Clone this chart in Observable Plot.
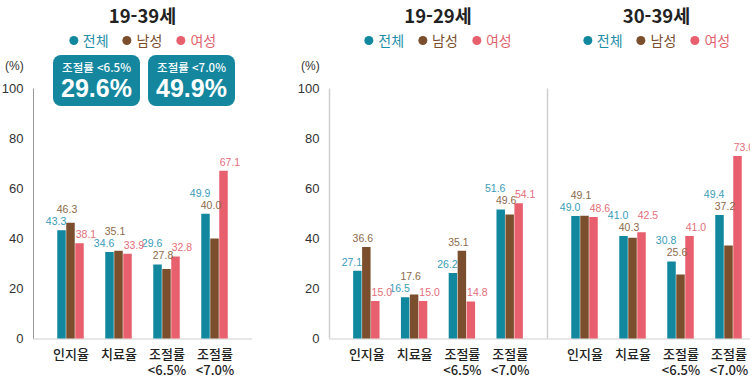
<!DOCTYPE html>
<html lang="ko">
<head>
<meta charset="utf-8">
<script src="https://cdn.jsdelivr.net/npm/d3@7"></script>
<script src="https://cdn.jsdelivr.net/npm/@observablehq/plot@0.6"></script>
<style>
  html, body { margin: 0; padding: 0; background: #fff; }
  body { width: 750px; height: 379px; overflow: hidden; position: relative;
         font-family: "Liberation Sans", "Noto Sans CJK KR", sans-serif; }
  .title { position: absolute; top: 2px; font: 700 18.5px "Noto Sans CJK KR", sans-serif;
           color: #222; transform: translateX(-50%); white-space: nowrap; }
  .legend { position: absolute; top: 30px; transform: translateX(-50%); display: flex; gap: 14px;
            font: 400 14px "Noto Sans CJK KR", sans-serif; white-space: nowrap; align-items: center; }
  .legend span { display: flex; align-items: center; gap: 5px; }
  .legend i { display: inline-block; width: 9px; height: 9px; border-radius: 50%; }
  .unit { position: absolute; top: 59px; font: 12px "Liberation Sans", sans-serif; color: #333; }
  .box { position: absolute; top: 55px; width: 87px; height: 51px; border-radius: 8px;
         background: #14879f; color: #fff; text-align: center; }
  .box .small { font: 500 11.5px "Noto Sans CJK KR", sans-serif; margin-top: 5px; line-height: 14px; }
  .box .big { font: 700 25px "Liberation Sans", sans-serif; line-height: 28px; }
  .panel { position: absolute; top: 60px; height: 319px; }
  .panel svg { max-width: none !important; }
</style>
</head>
<body>
<script>
// ---- data ----
const categories = ["인지율", "치료율", "조절률\n<6.5%", "조절률\n<7.0%"];
const seriesNames = ["전체", "남성", "여성"];
const yTicks = [0, 20, 40, 60, 80, 100];
const panelTitles = ["19-39세", "19-29세", "30-39세"];

const total1939  = [43.3, 34.6, 29.6, 49.9];
const male1939   = [46.3, 35.1, 27.8, 40.0];
const female1939 = [38.1, 33.9, 32.8, 67.1];

const total1929  = [27.1, 16.5, 26.2, 51.6];
const male1929   = [36.6, 17.6, 35.1, 49.6];
const female1929 = [15.0, 15.0, 14.8, 54.1];

const total3039  = [49.0, 41.0, 30.8, 49.4];
const male3039   = [49.1, 40.3, 25.6, 37.2];
const female3039 = [48.6, 42.5, 41.0, 73.0];

const highlightNames = ["조절률 <6.5%", "조절률 <7.0%"];
const highlightIndex = [2, 3];

// ---- styles ----
const barColors = ["#12889f", "#7b4f2e", "#e85f6e"];
const labelColors = ["#3a9cb6", "#8c6a4b", "#e36e7b"];
const legendColors = ["#1f8ea8", "#7b4f2e", "#e2636f"];

const xDomain = [-0.78125, 3.78125];
const SLOT = 0.1875, HALF = 0.0885;
const OFF = 3.6, LIFT = 4.8;

const panels = [
  {values: [total1939, male1939, female1939], left: 0, width: 260, mL: 33, mR: 8, showY: true, axisColor: "#9a9a9a", axisW: 1},
  {values: [total1929, male1929, female1929], left: 280, width: 275, mL: 49, mR: 8, showY: true, axisColor: "#cfcfcf", axisW: 1.5},
  {values: [total3039, male3039, female3039], left: 540, width: 240, mL: 7, mR: 14, showY: false, axisColor: "#cfcfcf", axisW: 1.5}
];

function buildPanel(p, k) {
  const rows = [];
  const labels = [];
  categories.forEach((c, i) => {
    seriesNames.forEach((s, j) => rows.push({i, j, s, v: p.values[j][i]}));
    const [b, m, f] = p.values.map(a => a[i]);
    let yb = b + OFF, ym = Math.max(b, m) + OFF, yf = f + OFF;
    if (Math.abs(yb - ym) < LIFT) { if (ym > yb) ym = yb + LIFT; else yb = ym + LIFT; }
    if (Math.abs(yf - ym) < 2) { if (yf >= ym) yf = ym + LIFT; else ym = yf + LIFT; }
    labels.push({i, j: 0, v: b, ly: yb}, {i, j: 1, v: m, ly: ym}, {i, j: 2, v: f, ly: yf});
  });
  const cx = d => d.i + (d.j - 1) * SLOT;
  const marks = [
    Plot.ruleY([0], {stroke: "#cfcfcf", strokeWidth: 1.2}),
    Plot.ruleX([xDomain[0]], {stroke: p.axisColor, strokeWidth: p.axisW}),
    Plot.rect(rows, {x1: d => cx(d) - HALF, x2: d => cx(d) + HALF, y1: 0, y2: "v", fill: "s"}),
    Plot.text(labels.filter(d => d.j === 0), {x: d => cx(d) + HALF, y: "ly", text: d => d.v.toFixed(1),
      fill: labelColors[0], textAnchor: "end", fontSize: 10.5}),
    Plot.text(labels.filter(d => d.j === 1), {x: cx, y: "ly", text: d => d.v.toFixed(1),
      fill: labelColors[1], textAnchor: "middle", dx: -4, fontSize: 10.5}),
    Plot.text(labels.filter(d => d.j === 2), {x: d => cx(d) - HALF, y: "ly", text: d => d.v.toFixed(1),
      fill: labelColors[2], textAnchor: "start", fontSize: 10.5}),
    Plot.axisX({ticks: [0, 1, 2, 3], tickFormat: i => categories[i], tickSize: 0, tickPadding: 8,
      fontSize: 13, lineHeight: 1.27, fontFamily: "Noto Sans CJK KR", fontWeight: 500, fill: "#222", label: null})
  ];
  if (p.showY) marks.push(Plot.axisY({ticks: yTicks, tickSize: 0, tickPadding: 10, fontSize: 13, label: null}));
  const chart = Plot.plot({
    width: p.width, height: 319,
    marginTop: 28.5, marginBottom: 40.5, marginLeft: p.mL, marginRight: p.mR,
    x: {domain: xDomain, axis: null},
    y: {domain: [0, 100], axis: null},
    color: {domain: seriesNames, range: barColors},
    style: {fontFamily: "'Liberation Sans', 'Noto Sans CJK KR', sans-serif", color: "#333", overflow: "visible",
            background: "transparent", maxWidth: "none"},
    marks
  });
  const wrap = document.createElement("div");
  wrap.className = "panel";
  wrap.style.left = p.left + "px";
  wrap.style.width = p.width + "px";
  wrap.appendChild(chart);
  document.body.appendChild(wrap);

  const center = p.left + p.mL + (p.width - p.mL - p.mR) / 2;
  const t = document.createElement("div");
  t.className = "title"; t.style.left = center + "px"; t.textContent = panelTitles[k];
  document.body.appendChild(t);
  const lg = document.createElement("div");
  lg.className = "legend"; lg.style.left = center + "px";
  seriesNames.forEach((s, j) => {
    const sp = document.createElement("span");
    sp.style.color = legendColors[j];
    const dot = document.createElement("i"); dot.style.background = barColors[j];
    sp.appendChild(dot); sp.appendChild(document.createTextNode(s));
    lg.appendChild(sp);
  });
  document.body.appendChild(lg);
  if (p.showY) {
    const u = document.createElement("div");
    u.className = "unit"; u.style.left = (p.left + p.mL - 28) + "px"; u.textContent = "(%)";
    document.body.appendChild(u);
  }
}
panels.forEach(buildPanel);

// highlight boxes (19-39세 전체)
[53, 148].forEach((x, n) => {
  const b = document.createElement("div");
  b.className = "box"; b.style.left = x + "px";
  b.innerHTML = `<div class="small"></div><div class="big"></div>`;
  b.querySelector(".small").textContent = highlightNames[n];
  b.querySelector(".big").textContent = total1939[highlightIndex[n]].toFixed(1) + "%";
  document.body.appendChild(b);
});
</script>
</body>
</html>
